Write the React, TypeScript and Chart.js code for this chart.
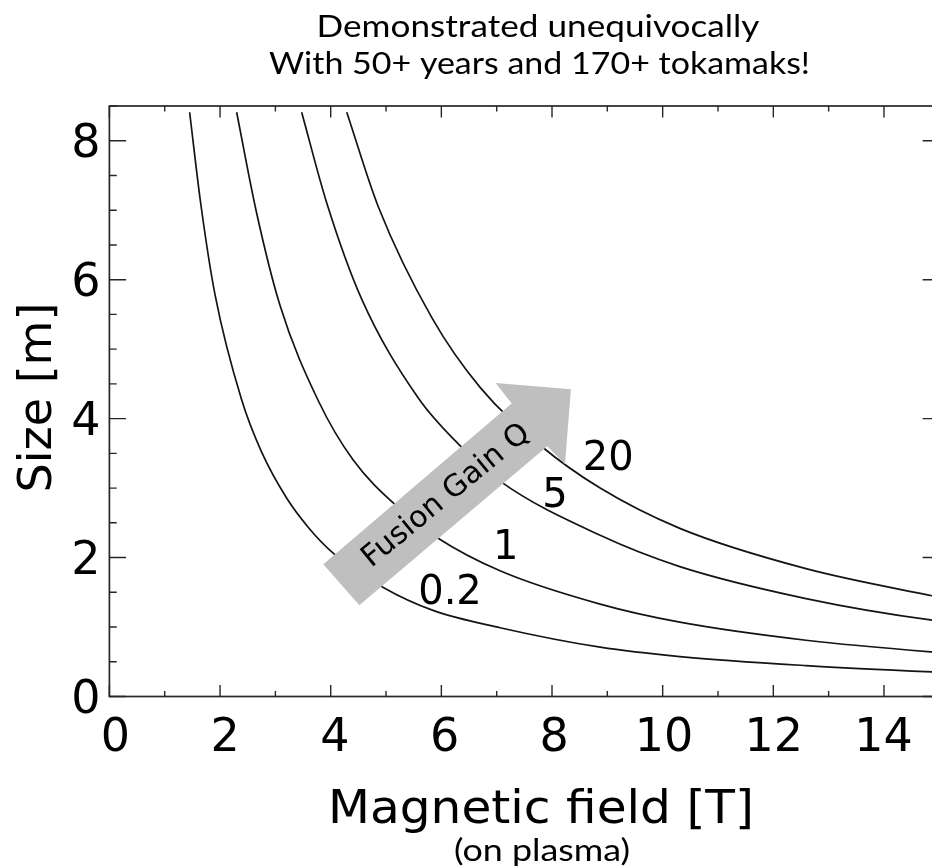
import React, { useEffect, useRef } from "react";
import { Chart, registerables } from "chart.js";

Chart.register(...registerables);

// ---- data ----
const q02X = [1.45, 1.65, 1.91, 2.39, 2.75, 3.2, 3.6, 4.05, 4.95, 5.85, 7.06, 8.87, 10.31, 12.59, 14.87, 15.0];
const q02Y = [8.41, 7.1, 5.78, 4.27, 3.52, 2.86, 2.43, 2.06, 1.57, 1.24, 0.99, 0.71, 0.575, 0.445, 0.354, 0.35];

const q1X = [2.3, 2.65, 3.08, 3.78, 4.41, 5.25, 5.92, 7.06, 8.87, 10.31, 12.59, 14.87, 15.0];
const q1Y = [8.41, 7.0, 5.64, 4.25, 3.4, 2.7, 2.29, 1.81, 1.33, 1.07, 0.81, 0.642, 0.635];

const q5X = [3.475, 3.93, 4.56, 5.58, 6.3, 7.06, 8.87, 10.31, 12.59, 14.87, 15.0];
const q5Y = [8.41, 7.1, 5.72, 4.3, 3.64, 3.1, 2.32, 1.87, 1.41, 1.1, 1.09];

const q20X = [4.29, 4.86, 5.83, 6.7, 7.78, 8.87, 10.31, 12.59, 14.87, 15.0];
const q20Y = [8.41, 7.05, 5.45, 4.45, 3.62, 3.0, 2.42, 1.84, 1.45, 1.43];

const curveLabels = ["0.2", "1", "5", "20"];
const curveLabelX = [6.156, 7.164, 8.054, 9.017];
const curveLabelY = [1.543, 2.191, 2.944, 3.472];

const xTickValues = [0, 2, 4, 6, 8, 10, 12, 14];
const xTickLabels = ["0", "2", "4", "6", "8", "10", "12", "14"];
const yTickValues = [0, 2, 4, 6, 8];
const yTickLabels = ["0", "2", "4", "6", "8"];

// arrow annotation outline (data units)
const arrowX = [3.866, 4.517, 7.914, 8.234, 8.342, 6.982, 7.271];
const arrowY = [1.904, 1.314, 3.601, 3.342, 4.421, 4.512, 4.216];
const arrowText = "Fusion Gain Q";
const arrowTextX = 6.18;
const arrowTextY = 2.8;

const titleLines = ["Demonstrated unequivocally", "With 50+ years and 170+ tokamaks!"];
const xTitle = "Magnetic field [T]";
const xSubTitle = "(on plasma)";
const yTitle = "Size [m]";

const FONT = '"DejaVu Sans", sans-serif';
const TITLE_FONT = "Lato, sans-serif";

function fitText(ctx: CanvasRenderingContext2D, text: string, cx: number, base: number, font: string, width: number) {
  ctx.save();
  ctx.font = font;
  const w = ctx.measureText(text).width;
  ctx.translate(cx, base);
  ctx.scale(width / w, 1);
  ctx.textAlign = "center";
  ctx.textBaseline = "alphabetic";
  ctx.fillText(text, 0, 0);
  ctx.restore();
}

const decor = {
  id: "decor",
  afterDatasetsDraw(chart: any) {
    const { ctx, chartArea: a, scales } = chart;
    const x = scales.x;
    const y = scales.y;
    ctx.save();

    // arrow
    ctx.beginPath();
    arrowX.forEach((v, i) => {
      const px = x.getPixelForValue(v);
      const py = y.getPixelForValue(arrowY[i]);
      if (i === 0) ctx.moveTo(px, py);
      else ctx.lineTo(px, py);
    });
    ctx.closePath();
    ctx.fillStyle = "#bfbfbf";
    ctx.fill();

    ctx.fillStyle = "#000";
    ctx.save();
    ctx.translate(x.getPixelForValue(arrowTextX), y.getPixelForValue(arrowTextY));
    ctx.rotate((-39.5 * Math.PI) / 180);
    ctx.font = `30px ${FONT}`;
    ctx.textAlign = "center";
    ctx.textBaseline = "alphabetic";
    ctx.fillText(arrowText, 0, 0);
    ctx.restore();

    // curve labels
    ctx.font = `40px ${FONT}`;
    ctx.textAlign = "center";
    ctx.textBaseline = "alphabetic";
    curveLabels.forEach((t, i) => {
      ctx.fillText(t, x.getPixelForValue(curveLabelX[i]), y.getPixelForValue(curveLabelY[i]) + 14.6);
    });

    // frame
    ctx.strokeStyle = "#262626";
    ctx.lineWidth = 1.7;
    ctx.strokeRect(a.left, a.top, a.right - a.left, a.bottom - a.top);

    // ticks
    ctx.lineWidth = 1.4;
    ctx.beginPath();
    for (let v = 0; v <= 15; v++) {
      const px = x.getPixelForValue(v);
      const len = v % 2 === 0 ? 11.5 : 5.5;
      ctx.moveTo(px, a.bottom);
      ctx.lineTo(px, a.bottom - len);
      ctx.moveTo(px, a.top);
      ctx.lineTo(px, a.top + len);
    }
    for (let i = 0; i <= 17; i++) {
      const v = i * 0.5;
      const py = y.getPixelForValue(v);
      const len = i % 4 === 0 ? 16.7 : 7.3;
      ctx.moveTo(a.left, py);
      ctx.lineTo(a.left + len, py);
      ctx.moveTo(a.right, py);
      ctx.lineTo(a.right - len, py);
    }
    ctx.stroke();

    // tick labels
    ctx.fillStyle = "#000";
    ctx.font = `46px ${FONT}`;
    ctx.textAlign = "center";
    ctx.textBaseline = "alphabetic";
    xTickValues.forEach((v, i) => {
      ctx.fillText(xTickLabels[i], x.getPixelForValue(v) + 6 - 0.47 * v, a.bottom + 54.5);
    });
    ctx.textAlign = "right";
    yTickValues.forEach((v, i) => {
      ctx.fillText(yTickLabels[i], a.left - 9, y.getPixelForValue(v) + 16.5);
    });

    // axis titles
    fitText(ctx, xTitle, 541, 823, `46px ${FONT}`, 426);
    fitText(ctx, xSubTitle, 542, 861, `30px ${TITLE_FONT}`, 176);
    ctx.save();
    ctx.translate(51, 397.5);
    ctx.rotate(-Math.PI / 2);
    ctx.font = `46px ${FONT}`;
    ctx.textAlign = "center";
    ctx.fillText(yTitle, 0, 0);
    ctx.restore();

    // title
    fitText(ctx, titleLines[0], 538, 36.7, `31px ${TITLE_FONT}`, 443);
    fitText(ctx, titleLines[1], 539.5, 74, `31px ${TITLE_FONT}`, 541);

    ctx.restore();
  },
};

export default function App() {
  const ref = useRef<HTMLCanvasElement>(null);
  useEffect(() => {
    const series: [number[], number[]][] = [
      [q02X, q02Y],
      [q1X, q1Y],
      [q5X, q5Y],
      [q20X, q20Y],
    ];
    const chart = new Chart(ref.current as HTMLCanvasElement, {
      type: "scatter",
      data: {
        datasets: series.map(([xs, ys], i) => ({
          label: curveLabels[i],
          data: xs.map((v, j) => ({ x: v, y: ys[j] })),
          showLine: true,
          borderColor: "#141414",
          borderWidth: 1.7,
          pointRadius: 0,
          cubicInterpolationMode: "monotone" as const,
          fill: false,
        })),
      },
      options: {
        animation: false,
        responsive: true,
        maintainAspectRatio: false,
        events: [],
        layout: { padding: { left: 109.4, right: 8.7, top: 106, bottom: 171.5 } },
        plugins: { legend: { display: false }, tooltip: { enabled: false }, title: { display: false } },
        scales: {
          x: { type: "linear", min: 0, max: 15, display: false },
          y: { type: "linear", min: 0, max: 8.5, display: false },
        },
      },
      plugins: [decor],
    });
    return () => chart.destroy();
  }, []);
  return (
    <div style={{ position: "absolute", left: 0, top: 0, width: 932, height: 868, overflow: "hidden", background: "#fff" }}>
      <div style={{ width: 948, height: 868 }}>
        <canvas ref={ref} />
      </div>
    </div>
  );
}
